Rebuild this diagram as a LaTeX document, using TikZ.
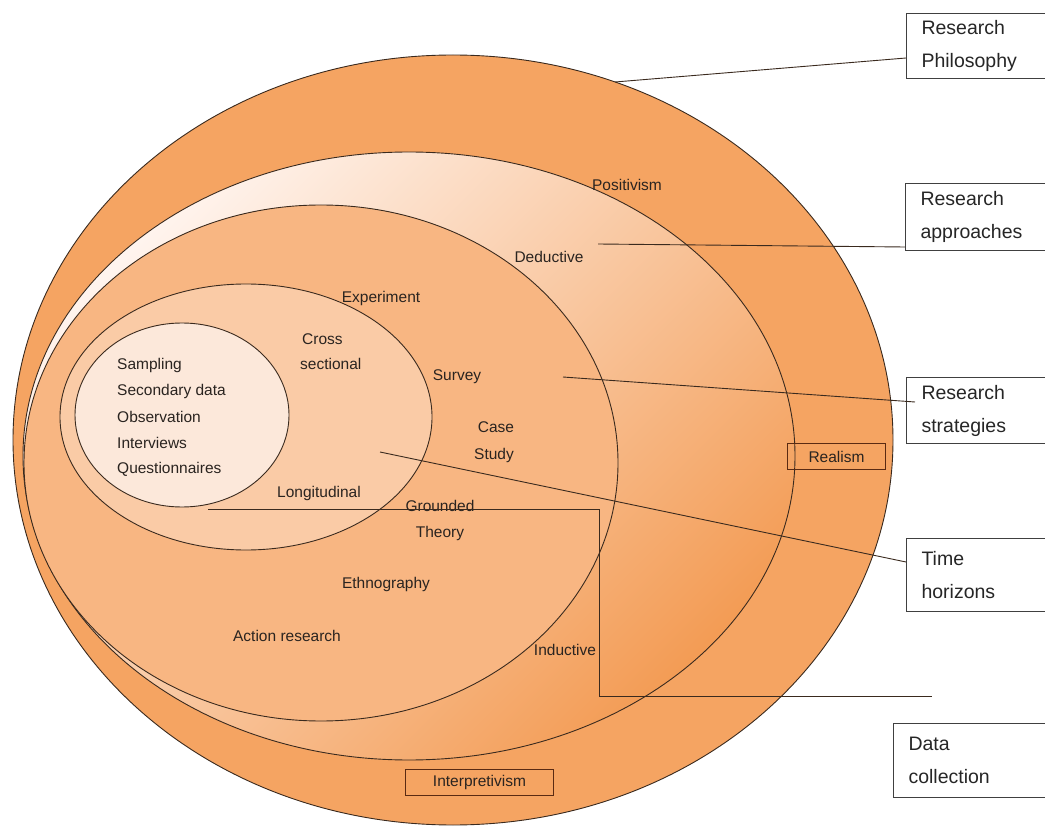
\documentclass[tikz,border=0pt]{standalone}
\usepackage{fontspec}
\setmainfont{Liberation Sans}
\usetikzlibrary{shapes.geometric}
\definecolor{outerc}{HTML}{F5A462}
\definecolor{lightc}{HTML}{FFF4EE}
\definecolor{midc}{HTML}{F9C49B}
\definecolor{darkc}{HTML}{F39C55}
\definecolor{stratc}{HTML}{F8B682}
\definecolor{timec}{HTML}{FACBA6}
\definecolor{datac}{HTML}{FCE8DA}
\definecolor{edgec}{HTML}{3A2A1E}
\definecolor{txtc}{HTML}{2A2420}
\definecolor{tagc}{HTML}{5A2A12}
\begin{document}
\begin{tikzpicture}[x=1pt,y=-1pt,
  ring/.style={draw=edgec, line width=0.9pt},
  lbl/.style={font=\fontsize{15.5}{18}\selectfont, text=txtc, inner sep=0pt},
  tag/.style={lbl, draw=tagc, line width=1pt, minimum height=26pt, anchor=north west},
  sidebox/.style={draw=black!75, fill=white, line width=1pt, anchor=north west,
     minimum width=160pt, text width=130pt, align=left, inner xsep=14pt, inner ysep=0pt,
     font=\fontsize{19.5}{33}\selectfont, text=black!85},
  conn/.style={draw=edgec, line width=0.9pt}]
\useasboundingbox (0,0) rectangle (1045,826);

% ellipses
\fill[outerc] (453,440) ellipse [x radius=440pt, y radius=385pt];
\draw[ring] (453,440) ellipse [x radius=440pt, y radius=385pt];
\shade[top color=lightc, middle color=midc, bottom color=darkc, shading angle=45]
  (409,456) ellipse [x radius=386pt, y radius=304pt];
\draw[ring] (409,456) ellipse [x radius=386pt, y radius=304pt];
\fill[stratc] (321,463) ellipse [x radius=297pt, y radius=258pt];
\draw[ring] (321,463) ellipse [x radius=297pt, y radius=258pt];
\fill[timec] (246,417) ellipse [x radius=186pt, y radius=133pt];
\draw[ring] (246,417) ellipse [x radius=186pt, y radius=133pt];
\fill[datac] (182,415) ellipse [x radius=107pt, y radius=92pt];
\draw[ring] (182,415) ellipse [x radius=107pt, y radius=92pt];

% labels inside
\node[lbl] (positivism) at (627,185) {Positivism};
\node[lbl] (deductive) at (549,257) {Deductive};
\node[lbl] (experiment) at (381,298) {Experiment};
\node[lbl, anchor=west] (cross) at (302,339) {Cross};
\node[lbl, anchor=west] (sectional) at (300,364) {sectional};
\node[lbl] (survey) at (457,377) {Survey};
\node[lbl] (case) at (496,427) {Case};
\node[lbl] (study) at (494,455) {Study};
\node[lbl, anchor=west] (sampling) at (117,365) {Sampling};
\node[lbl, anchor=west] (secondary) at (117,391) {Secondary data};
\node[lbl, anchor=west] (observation) at (117,417) {Observation};
\node[lbl, anchor=west] (interviews) at (117,443) {Interviews};
\node[lbl, anchor=west] (questionnaires) at (117,469) {Questionnaires};
\node[lbl] (longitudinal) at (319,493) {Longitudinal};
\node[lbl] (grounded) at (440,506) {Grounded};
\node[lbl] (theory) at (440,533) {Theory};
\node[lbl] (ethnography) at (386,584) {Ethnography};
\node[lbl] (action) at (287,636) {Action research};
\node[lbl] (inductive) at (565,650) {Inductive};
\node[tag, minimum width=98pt] (realism) at (787,443) {Realism};
\node[tag, minimum width=148pt] (interp) at (405,769) {Interpretivism};

% side boxes
\node[sidebox, minimum height=65pt] (bphil) at (906,13) {Research\\Philosophy};
\node[sidebox, minimum height=67pt] (bappr) at (905,183) {Research\\approaches};
\node[sidebox, minimum height=66pt] (bstrat) at (906,377) {Research\\strategies};
\node[sidebox, minimum height=73pt] (btime) at (906,538) {Time\\horizons};
\node[sidebox, minimum height=74pt] (bdata) at (893,723) {Data\\collection};

% connector anchors
\coordinate (cphil) at (615,82);
\coordinate (cappr) at (598,244);
\coordinate (cstrat) at (563,377);
\coordinate (ctime) at (380,452);
\coordinate (cdata) at (208,509);
\coordinate (cdataend) at (932,696);
\coordinate (pphil) at (906,58);
\coordinate (pappr) at (905,247);
\coordinate (pstrat) at (915,402);
\coordinate (ptime) at (906,562);

\draw[conn] (cphil) -- (pphil);
\draw[conn] (cappr) -- (pappr);
\draw[conn] (cstrat) -- (pstrat);
\draw[conn] (ctime) -- (ptime);
\draw[conn] (cdata) -- (599,509) -- (599,696) -- (cdataend);
\end{tikzpicture}
\end{document}
